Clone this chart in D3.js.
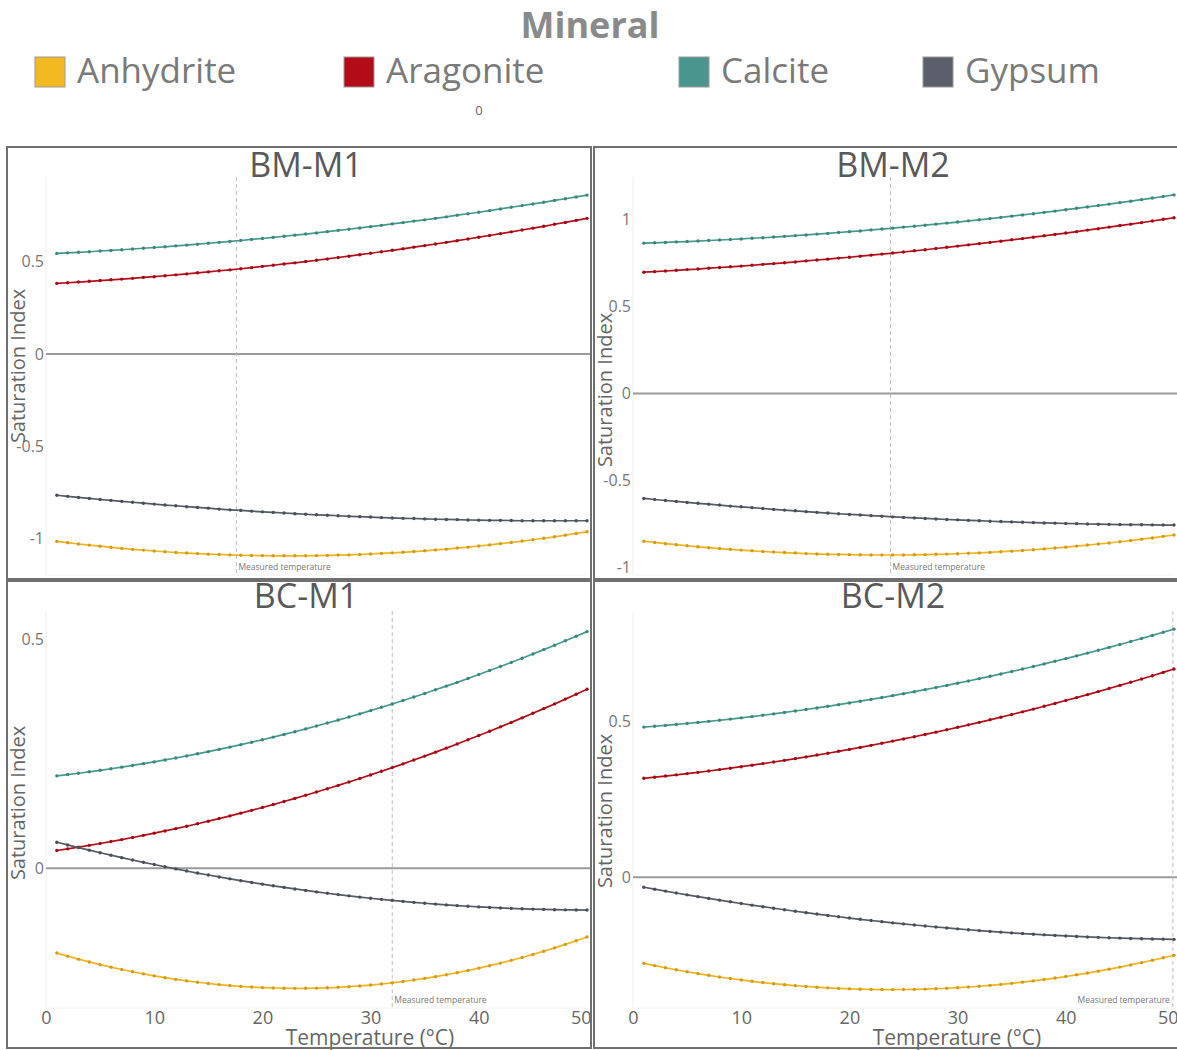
<!DOCTYPE html>
<html>
<head>
<meta charset="utf-8">
<script src="https://cdn.jsdelivr.net/npm/d3@7/dist/d3.min.js"></script>
<style>
  html, body { margin: 0; padding: 0; background: #fff; }
  svg { display: block; font-family: "Open Sans", "Noto Sans", sans-serif; }
</style>
</head>
<body>
<svg id="chart" width="1177" height="1050"></svg>
<script>
// ---------------- DATA ----------------
const legendTitle = "Mineral";
const minerals = ["Anhydrite", "Aragonite", "Calcite", "Gypsum"];
const panelNames = ["BM-M1", "BM-M2", "BC-M1", "BC-M2"];
const temperatures = [1,2,3,4,5,6,7,8,9,10,11,12,13,14,15,16,17,18,19,20,21,22,23,24,25,26,27,28,29,30,31,32,33,34,35,36,37,38,39,40,41,42,43,44,45,46,47,48,49,50];
const xTickValues = [0, 10, 20, 30, 40, 50];
const yTickStep = 0.5;
const measuredTemps = [17.6, 23.8, 32.0, 49.9];
const yDomains = [[-1.197, 0.959], [-1.043, 1.244], [-0.305, 0.562], [-0.419, 0.853]];
const xDomain = [0, 50];

const bmM1Anhydrite = [-1.015,-1.022,-1.029,-1.035,-1.041,-1.047,-1.053,-1.058,-1.062,-1.067,-1.071,-1.075,-1.078,-1.081,-1.084,-1.086,-1.088,-1.090,-1.091,-1.092,-1.093,-1.093,-1.093,-1.093,-1.092,-1.091,-1.089,-1.088,-1.086,-1.083,-1.080,-1.077,-1.074,-1.070,-1.066,-1.061,-1.057,-1.051,-1.046,-1.040,-1.034,-1.027,-1.021,-1.013,-1.006,-0.998,-0.990,-0.981,-0.972,-0.963];
const bmM1Aragonite = [0.383,0.386,0.390,0.394,0.398,0.402,0.406,0.410,0.415,0.419,0.424,0.429,0.434,0.440,0.445,0.451,0.456,0.462,0.468,0.475,0.481,0.488,0.494,0.501,0.508,0.515,0.523,0.530,0.538,0.546,0.554,0.562,0.570,0.579,0.587,0.596,0.605,0.614,0.623,0.633,0.642,0.652,0.662,0.672,0.682,0.692,0.703,0.713,0.724,0.735];
const bmM1Calcite = [0.545,0.548,0.551,0.554,0.558,0.561,0.565,0.569,0.573,0.577,0.581,0.586,0.590,0.595,0.600,0.605,0.610,0.615,0.621,0.626,0.632,0.638,0.644,0.650,0.656,0.663,0.670,0.676,0.683,0.690,0.697,0.705,0.712,0.720,0.727,0.735,0.743,0.752,0.760,0.768,0.777,0.786,0.795,0.804,0.813,0.822,0.832,0.841,0.851,0.861];
const bmM1Gypsum = [-0.765,-0.771,-0.777,-0.782,-0.788,-0.793,-0.798,-0.803,-0.808,-0.813,-0.818,-0.822,-0.827,-0.831,-0.835,-0.840,-0.844,-0.847,-0.851,-0.855,-0.858,-0.861,-0.865,-0.868,-0.871,-0.873,-0.876,-0.879,-0.881,-0.883,-0.886,-0.888,-0.890,-0.891,-0.893,-0.895,-0.896,-0.897,-0.899,-0.900,-0.901,-0.901,-0.902,-0.903,-0.903,-0.903,-0.903,-0.903,-0.903,-0.903];

const bmM2Anhydrite = [-0.849,-0.856,-0.863,-0.869,-0.875,-0.881,-0.886,-0.891,-0.896,-0.900,-0.904,-0.908,-0.911,-0.914,-0.917,-0.920,-0.922,-0.924,-0.925,-0.926,-0.927,-0.928,-0.928,-0.928,-0.928,-0.927,-0.926,-0.924,-0.923,-0.921,-0.918,-0.916,-0.913,-0.909,-0.906,-0.902,-0.898,-0.893,-0.888,-0.883,-0.877,-0.871,-0.865,-0.859,-0.852,-0.845,-0.837,-0.830,-0.821,-0.813];
const bmM2Aragonite = [0.697,0.700,0.704,0.708,0.712,0.715,0.720,0.724,0.728,0.732,0.737,0.742,0.746,0.751,0.756,0.762,0.767,0.772,0.778,0.783,0.789,0.795,0.801,0.807,0.813,0.820,0.826,0.833,0.840,0.847,0.854,0.861,0.868,0.875,0.883,0.890,0.898,0.906,0.914,0.922,0.930,0.939,0.947,0.956,0.965,0.973,0.982,0.991,1.001,1.010];
const bmM2Calcite = [0.864,0.866,0.868,0.871,0.873,0.876,0.879,0.882,0.885,0.888,0.892,0.895,0.899,0.903,0.907,0.911,0.916,0.920,0.925,0.930,0.934,0.940,0.945,0.950,0.956,0.961,0.967,0.973,0.979,0.985,0.992,0.998,1.005,1.012,1.019,1.026,1.033,1.041,1.048,1.056,1.064,1.072,1.080,1.088,1.097,1.105,1.114,1.123,1.132,1.141];
const bmM2Gypsum = [-0.603,-0.609,-0.615,-0.620,-0.626,-0.631,-0.636,-0.641,-0.647,-0.651,-0.656,-0.661,-0.666,-0.670,-0.674,-0.679,-0.683,-0.687,-0.691,-0.695,-0.698,-0.702,-0.705,-0.709,-0.712,-0.715,-0.718,-0.721,-0.724,-0.726,-0.729,-0.731,-0.734,-0.736,-0.738,-0.740,-0.742,-0.744,-0.745,-0.747,-0.748,-0.750,-0.751,-0.752,-0.753,-0.754,-0.754,-0.755,-0.756,-0.756];

const bcM1Anhydrite = [-0.1850,-0.1918,-0.1983,-0.2044,-0.2103,-0.2158,-0.2210,-0.2259,-0.2305,-0.2348,-0.2388,-0.2424,-0.2458,-0.2488,-0.2515,-0.2539,-0.2560,-0.2578,-0.2593,-0.2605,-0.2613,-0.2618,-0.2621,-0.2620,-0.2616,-0.2609,-0.2598,-0.2585,-0.2568,-0.2549,-0.2526,-0.2500,-0.2471,-0.2439,-0.2404,-0.2365,-0.2324,-0.2279,-0.2231,-0.2180,-0.2126,-0.2069,-0.2009,-0.1946,-0.1879,-0.1810,-0.1737,-0.1661,-0.1582,-0.1500];
const bcM1Aragonite = [0.0390,0.0426,0.0463,0.0502,0.0543,0.0585,0.0628,0.0673,0.0720,0.0768,0.0817,0.0868,0.0920,0.0974,0.1030,0.1087,0.1145,0.1205,0.1266,0.1329,0.1393,0.1459,0.1527,0.1595,0.1666,0.1738,0.1811,0.1886,0.1962,0.2040,0.2119,0.2200,0.2282,0.2366,0.2451,0.2538,0.2626,0.2716,0.2807,0.2900,0.2994,0.3090,0.3187,0.3286,0.3386,0.3488,0.3591,0.3696,0.3802,0.3910];
const bcM1Calcite = [0.2020,0.2048,0.2077,0.2108,0.2141,0.2175,0.2210,0.2247,0.2286,0.2326,0.2367,0.2410,0.2455,0.2501,0.2549,0.2598,0.2648,0.2701,0.2754,0.2809,0.2866,0.2924,0.2984,0.3045,0.3108,0.3173,0.3238,0.3306,0.3374,0.3445,0.3517,0.3590,0.3665,0.3741,0.3819,0.3899,0.3980,0.4062,0.4146,0.4232,0.4319,0.4407,0.4497,0.4589,0.4682,0.4777,0.4873,0.4970,0.5070,0.5170];
const bcM1Gypsum = [0.0570,0.0511,0.0453,0.0397,0.0341,0.0287,0.0234,0.0183,0.0132,0.0083,0.0035,-0.0012,-0.0058,-0.0103,-0.0146,-0.0188,-0.0229,-0.0269,-0.0308,-0.0345,-0.0381,-0.0416,-0.0450,-0.0483,-0.0514,-0.0544,-0.0573,-0.0601,-0.0628,-0.0653,-0.0677,-0.0700,-0.0722,-0.0743,-0.0762,-0.0781,-0.0798,-0.0814,-0.0828,-0.0842,-0.0854,-0.0865,-0.0875,-0.0884,-0.0891,-0.0897,-0.0903,-0.0906,-0.0909,-0.0911];

const bcM2Anhydrite = [-0.2760,-0.2832,-0.2901,-0.2966,-0.3028,-0.3087,-0.3143,-0.3196,-0.3245,-0.3291,-0.3334,-0.3374,-0.3411,-0.3444,-0.3474,-0.3501,-0.3524,-0.3545,-0.3562,-0.3576,-0.3587,-0.3594,-0.3599,-0.3600,-0.3598,-0.3592,-0.3584,-0.3572,-0.3557,-0.3539,-0.3518,-0.3493,-0.3465,-0.3434,-0.3400,-0.3362,-0.3321,-0.3278,-0.3230,-0.3180,-0.3126,-0.3070,-0.3010,-0.2946,-0.2880,-0.2810,-0.2737,-0.2661,-0.2582,-0.2499];
const bcM2Aragonite = [0.3170,0.3205,0.3242,0.3280,0.3320,0.3361,0.3403,0.3448,0.3493,0.3541,0.3589,0.3640,0.3691,0.3745,0.3799,0.3856,0.3914,0.3973,0.4034,0.4096,0.4160,0.4225,0.4292,0.4361,0.4431,0.4502,0.4575,0.4649,0.4725,0.4803,0.4882,0.4962,0.5044,0.5128,0.5213,0.5299,0.5387,0.5477,0.5568,0.5661,0.5755,0.5850,0.5948,0.6046,0.6146,0.6248,0.6351,0.6456,0.6562,0.6670];
const bcM2Calcite = [0.4810,0.4837,0.4865,0.4895,0.4926,0.4959,0.4994,0.5030,0.5067,0.5106,0.5147,0.5189,0.5233,0.5279,0.5326,0.5374,0.5424,0.5476,0.5529,0.5584,0.5640,0.5698,0.5757,0.5818,0.5881,0.5945,0.6010,0.6078,0.6146,0.6217,0.6288,0.6362,0.6437,0.6513,0.6591,0.6671,0.6752,0.6835,0.6919,0.7005,0.7092,0.7181,0.7272,0.7364,0.7458,0.7553,0.7649,0.7748,0.7848,0.7949];
const bcM2Gypsum = [-0.0320,-0.0383,-0.0444,-0.0505,-0.0564,-0.0622,-0.0678,-0.0734,-0.0788,-0.0842,-0.0894,-0.0944,-0.0994,-0.1042,-0.1090,-0.1136,-0.1180,-0.1224,-0.1267,-0.1308,-0.1348,-0.1387,-0.1424,-0.1461,-0.1496,-0.1530,-0.1563,-0.1595,-0.1625,-0.1654,-0.1683,-0.1710,-0.1735,-0.1760,-0.1783,-0.1805,-0.1826,-0.1846,-0.1864,-0.1882,-0.1898,-0.1913,-0.1927,-0.1939,-0.1951,-0.1961,-0.1970,-0.1978,-0.1984,-0.1990];

const panelSeries = [
  [bmM1Anhydrite, bmM1Aragonite, bmM1Calcite, bmM1Gypsum],
  [bmM2Anhydrite, bmM2Aragonite, bmM2Calcite, bmM2Gypsum],
  [bcM1Anhydrite, bcM1Aragonite, bcM1Calcite, bcM1Gypsum],
  [bcM2Anhydrite, bcM2Aragonite, bcM2Calcite, bcM2Gypsum]
];

// ---------------- STYLE / LAYOUT ----------------
const lineColors = ["#f0b51e", "#b50f1c", "#459a8f", "#555a64"];
const swatchColors = ["#f2b923", "#b20c18", "#4a958d", "#5a5f6b"];
const legendX = [35, 344, 679, 923];
const panelBoxes = [
  {x: 7,   y: 147, w: 584, h: 432, yTitleY: 366, titleY: 177, bottom: false},
  {x: 594, y: 147, w: 584, h: 432, yTitleY: 390, titleY: 177, bottom: false},
  {x: 7,   y: 581, w: 584, h: 467, yTitleY: 803, titleY: 608, bottom: true},
  {x: 594, y: 581, w: 584, h: 467, yTitleY: 811, titleY: 608, bottom: true}
];

const svg = d3.select("#chart");
svg.append("rect").attr("width", 1177).attr("height", 1050).attr("fill", "#fff");

// Legend
svg.append("text").attr("x", 590).attr("y", 38).attr("text-anchor", "middle")
  .attr("font-size", 36).attr("font-weight", 700).attr("fill", "#8a8a8a").text(legendTitle);

const leg = svg.append("g");
minerals.forEach((m, i) => {
  leg.append("rect").attr("x", legendX[i]).attr("y", 57).attr("width", 30).attr("height", 30)
    .attr("fill", swatchColors[i]).attr("stroke", "#9a9a9a").attr("stroke-width", 1);
  leg.append("text").attr("x", legendX[i] + 42).attr("y", 83)
    .attr("font-size", 35).attr("fill", "#7a7a7a").text(m);
});
svg.append("text").attr("x", 479).attr("y", 115).attr("text-anchor", "middle")
  .attr("font-size", 13).attr("fill", "#666").text("0");

// Panels
panelBoxes.forEach((b, p) => {
  const left = b.x + 39, right = left + 541;
  const top = b.y + 30, bottom = b.bottom ? 1008 : 575;
  const x = d3.scaleLinear().domain(xDomain).range([left, right]);
  const y = d3.scaleLinear().domain(yDomains[p]).range([bottom, top]);
  const g = svg.append("g");

  // faint plot frame
  g.append("line").attr("x1", left).attr("x2", left).attr("y1", top).attr("y2", bottom)
    .attr("stroke", "#f0f0f0").attr("stroke-width", 1);
  g.append("line").attr("x1", left).attr("x2", right).attr("y1", bottom).attr("y2", bottom)
    .attr("stroke", "#f4f4f4").attr("stroke-width", 1);

  // y ticks
  const [y0, y1] = yDomains[p];
  const yt = d3.range(Math.ceil(y0 / yTickStep) * yTickStep, y1 + 1e-9, yTickStep);
  const yAxis = d3.axisLeft(y).tickValues(yt).tickSize(0).tickPadding(2)
    .tickFormat(v => { const r = Math.round(v * 10) / 10; return r === 0 ? "0" : String(r); });
  const ya = g.append("g").attr("transform", `translate(${left},0)`).call(yAxis);
  ya.select(".domain").remove();
  ya.selectAll("text").attr("font-size", 16).attr("fill", "#777")
    .attr("font-family", "'Open Sans', sans-serif");

  // zero line
  g.append("line").attr("x1", left).attr("x2", b.x + b.w - 1).attr("y1", y(0)).attr("y2", y(0))
    .attr("stroke", "#9a9a9a").attr("stroke-width", 2);

  // measured temperature
  const mx = x(measuredTemps[p]);
  g.append("line").attr("x1", mx).attr("x2", mx).attr("y1", top).attr("y2", bottom)
    .attr("stroke", "#bdbdbd").attr("stroke-width", 1).attr("stroke-dasharray", "4,3");
  const nearRight = mx > right - 110;
  g.append("text").attr("x", nearRight ? mx - 3 : mx + 2).attr("y", bottom - 5)
    .attr("text-anchor", nearRight ? "end" : "start")
    .attr("font-size", 8.5).attr("fill", "#777").text("Measured temperature");

  // series
  const line = d3.line().x((d, i) => x(temperatures[i])).y(d => y(d)).curve(d3.curveLinear);
  panelSeries[p].forEach((vals, s) => {
    g.append("path").datum(vals).attr("d", line).attr("fill", "none")
      .attr("stroke", lineColors[s]).attr("stroke-width", 1.7);
    g.append("g").selectAll("circle").data(vals).join("circle")
      .attr("cx", (d, i) => x(temperatures[i])).attr("cy", d => y(d)).attr("r", 1.7)
      .attr("fill", d3.color(lineColors[s]).darker(0.4));
  });

  // x axis labels (bottom row only)
  if (b.bottom) {
    const xa = g.append("g").attr("transform", `translate(0,${bottom})`)
      .call(d3.axisBottom(x).tickValues(xTickValues).tickSize(0).tickPadding(3).tickFormat(d3.format("d")));
    xa.select(".domain").remove();
    xa.selectAll("text").attr("font-size", 18).attr("fill", "#666")
      .attr("font-family", "'Open Sans', sans-serif")
      .attr("text-anchor", d => d === 50 ? "end" : "middle")
      .attr("dx", d => d === 50 ? 4 : 0);
    g.append("text").attr("x", left + 324).attr("y", 1045).attr("text-anchor", "middle")
      .attr("font-size", 21).attr("fill", "#666").text("Temperature (°C)");
  }

  // y title
  g.append("text").attr("transform", `translate(${b.x + 18},${b.yTitleY}) rotate(-90)`)
    .attr("text-anchor", "middle").attr("font-size", 20).attr("fill", "#666")
    .text("Saturation Index");

  // panel title
  g.append("text").attr("x", b.x + b.w / 2 + 7).attr("y", b.titleY).attr("text-anchor", "middle")
    .attr("font-size", 34).attr("fill", "#595959").text(panelNames[p]);

  // border
  g.append("rect").attr("x", b.x).attr("y", b.y).attr("width", b.w).attr("height", b.h)
    .attr("fill", "none").attr("stroke", "#707070").attr("stroke-width", 2);
});
</script>
</body>
</html>
